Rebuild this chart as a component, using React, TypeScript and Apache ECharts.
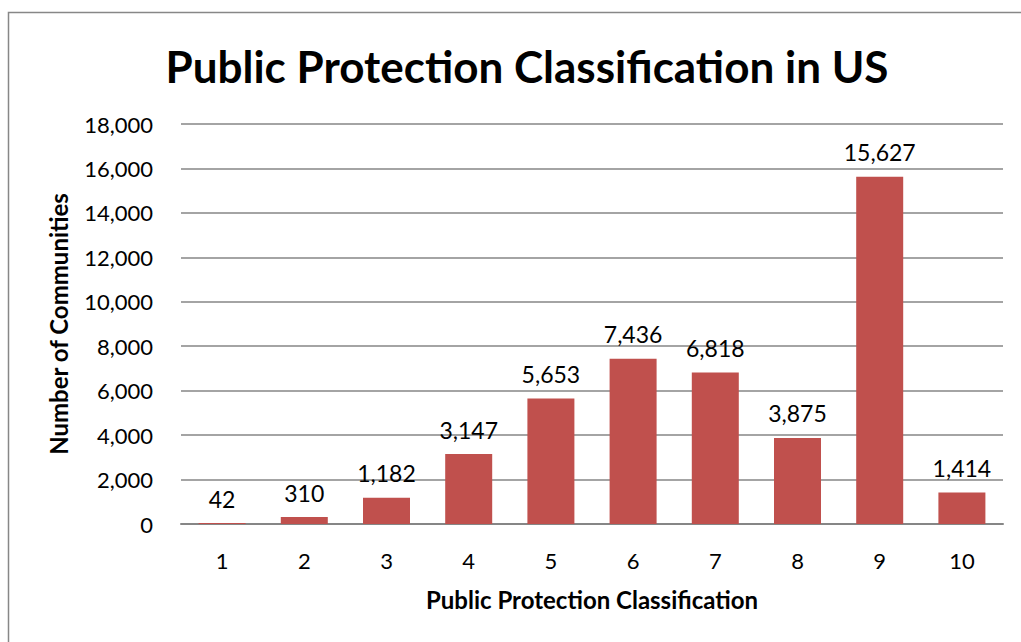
import React, { useEffect, useRef } from "react";
import * as echarts from "echarts";

const categories = ["1", "2", "3", "4", "5", "6", "7", "8", "9", "10"];
const communities = [42, 310, 1182, 3147, 5653, 7436, 6818, 3875, 15627, 1414];
const titleText = "Public Protection Classification in US";
const xName = "Public Protection Classification";
const yName = "Number of Communities";

const FONT = "Lato, 'Open Sans', sans-serif";

export default function App() {
  const ref = useRef<HTMLDivElement>(null);
  useEffect(() => {
    if (!ref.current) return;
    const chart = echarts.init(ref.current, undefined, { renderer: "svg" });
    chart.setOption({
      animation: false,
      backgroundColor: "#ffffff",
      textStyle: { fontFamily: FONT },
      graphic: [
        {
          type: "rect",
          shape: { x: 8.5, y: 12.5, width: 1100, height: 700 },
          style: { fill: "none", stroke: "#878787", lineWidth: 1.5 },
          silent: true,
        },
      ],
      title: {
        text: titleText,
        left: 522,
        textAlign: "center",
        top: 39,
        textStyle: { fontFamily: FONT, fontSize: 44, fontWeight: "bold", color: "#000" },
      },
      grid: { left: 181, right: 18, top: 124, bottom: 118 },
      xAxis: {
        type: "category",
        data: categories,
        name: xName,
        nameLocation: "middle",
        nameGap: 63,
        nameTextStyle: { fontFamily: FONT, fontSize: 24, fontWeight: "bold", color: "#000" },
        axisLine: { lineStyle: { color: "#868686", width: 2 } },
        axisTick: { show: false },
        axisLabel: { fontFamily: FONT, fontSize: 22, color: "#000", margin: 25 },
      },
      yAxis: {
        type: "value",
        min: 0,
        max: 18000,
        interval: 2000,
        name: yName,
        nameLocation: "middle",
        nameGap: 111,
        nameTextStyle: { fontFamily: FONT, fontSize: 24, fontWeight: "bold", color: "#000" },
        axisLine: { show: false },
        axisTick: { show: false },
        splitLine: { lineStyle: { color: "#868686", width: 1.5 } },
        axisLabel: {
          fontFamily: FONT,
          fontSize: 22,
          color: "#000",
          margin: 28,
          formatter: (v: number) => v.toLocaleString("en-US"),
        },
      },
      series: [
        {
          type: "bar",
          data: communities,
          barWidth: 47,
          itemStyle: { color: "#C0504D" },
          label: {
            show: true,
            position: "top",
            distance: 13,
            fontFamily: FONT,
            fontSize: 23,
            color: "#000",
            formatter: (p: any) => Number(p.value).toLocaleString("en-US"),
          },
        },
      ],
    });
    return () => chart.dispose();
  }, []);
  return <div ref={ref} style={{ width: 1021, height: 642, position: "absolute", left: 0, top: 0 }} />;
}
